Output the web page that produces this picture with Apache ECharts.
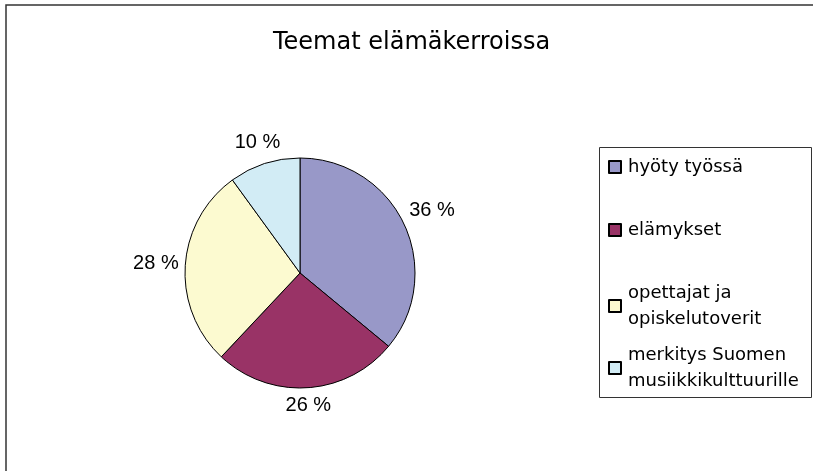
<!DOCTYPE html>
<html>
<head>
<meta charset="utf-8">
<script src="https://cdn.jsdelivr.net/npm/echarts@6/dist/echarts.min.js"></script>
<style>
  html, body { margin: 0; padding: 0; background: #fff; }
  #chart { width: 813px; height: 471px; }
</style>
</head>
<body>
<div id="chart"></div>
<script>
// teemat ja osuudet (%)
var themes = ['hyöty työssä', 'elämykset', 'opettajat ja opiskelutoverit', 'merkitys Suomen musiikkikulttuurille'];
var shares = [36, 26, 28, 10];
var colors = ['#9898C8', '#993366', '#FCFAD0', '#D2ECF5'];

var pieCenter = [300, 273];
var pieRadius = 115;

var chartDom = document.getElementById('chart');
var myChart = echarts.init(chartDom);

var total = shares.reduce(function (a, b) { return a + b; }, 0);

// label just outside the slice, centred along the mid angle (Excel "best fit" look)
function placeLabel(params) {
    var before = 0;
    for (var i = 0; i < params.dataIndex; i++) before += shares[i];
    var mid = (before + shares[params.dataIndex] / 2) / total * Math.PI * 2;
    var dx = Math.sin(mid), dy = -Math.cos(mid);
    var w = params.labelRect.width, h = params.labelRect.height;
    var off = pieRadius + 6 + Math.abs(dx) * w / 2 + Math.abs(dy) * h / 2;
    return {
        x: pieCenter[0] + dx * off,
        y: pieCenter[1] + dy * off,
        align: 'center',
        verticalAlign: 'middle'
    };
}

// legend look shared by both legend blocks
function legendBlock(names, top) {
    return {
        orient: 'vertical',
        left: 608,
        top: top,
        itemWidth: 12,
        itemHeight: 12,
        itemGap: 37,
        padding: 0,
        icon: 'rect',
        textStyle: {
            fontFamily: 'DejaVu Sans',
            fontSize: 18,
            lineHeight: 26,
            color: '#000',
            width: 186,
            overflow: 'break',
            padding: [0, 0, 0, 2]
        },
        data: names
    };
}

var option = {
    animation: false,
    title: {
        text: 'Teemat elämäkerroissa',
        left: 268,
        top: 26,
        padding: 5,
        textStyle: {
            fontFamily: 'DejaVu Sans',
            fontSize: 24,
            fontWeight: 'normal',
            color: '#000'
        }
    },
    // Excel spaces the entries evenly, so the last one gets its own block
    legend: [
        legendBlock(themes.slice(0, 3), 154),
        legendBlock(themes.slice(3), 342)
    ],
    graphic: [
        {
            type: 'rect',
            shape: { x: 6, y: 5, width: 830, height: 490 },
            style: { fill: null, stroke: '#333', lineWidth: 1.5 },
            silent: true
        },
        {
            type: 'rect',
            shape: { x: 599.5, y: 147.5, width: 212, height: 250 },
            style: { fill: null, stroke: '#333', lineWidth: 1 },
            silent: true
        }
    ],
    series: [
        {
            type: 'pie',
            center: pieCenter,
            radius: pieRadius,
            startAngle: 90,
            clockwise: true,
            itemStyle: {
                borderColor: '#000',
                borderWidth: 1
            },
            label: {
                show: true,
                position: 'outside',
                formatter: '{c} %',
                fontFamily: 'Liberation Sans',
                fontSize: 20,
                color: '#000'
            },
            labelLine: { show: false },
            labelLayout: placeLabel,
            emphasis: { disabled: true },
            data: themes.map(function (name, i) {
                return { name: name, value: shares[i], itemStyle: { color: colors[i] } };
            })
        }
    ]
};

option && myChart.setOption(option);
</script>
</body>
</html>
